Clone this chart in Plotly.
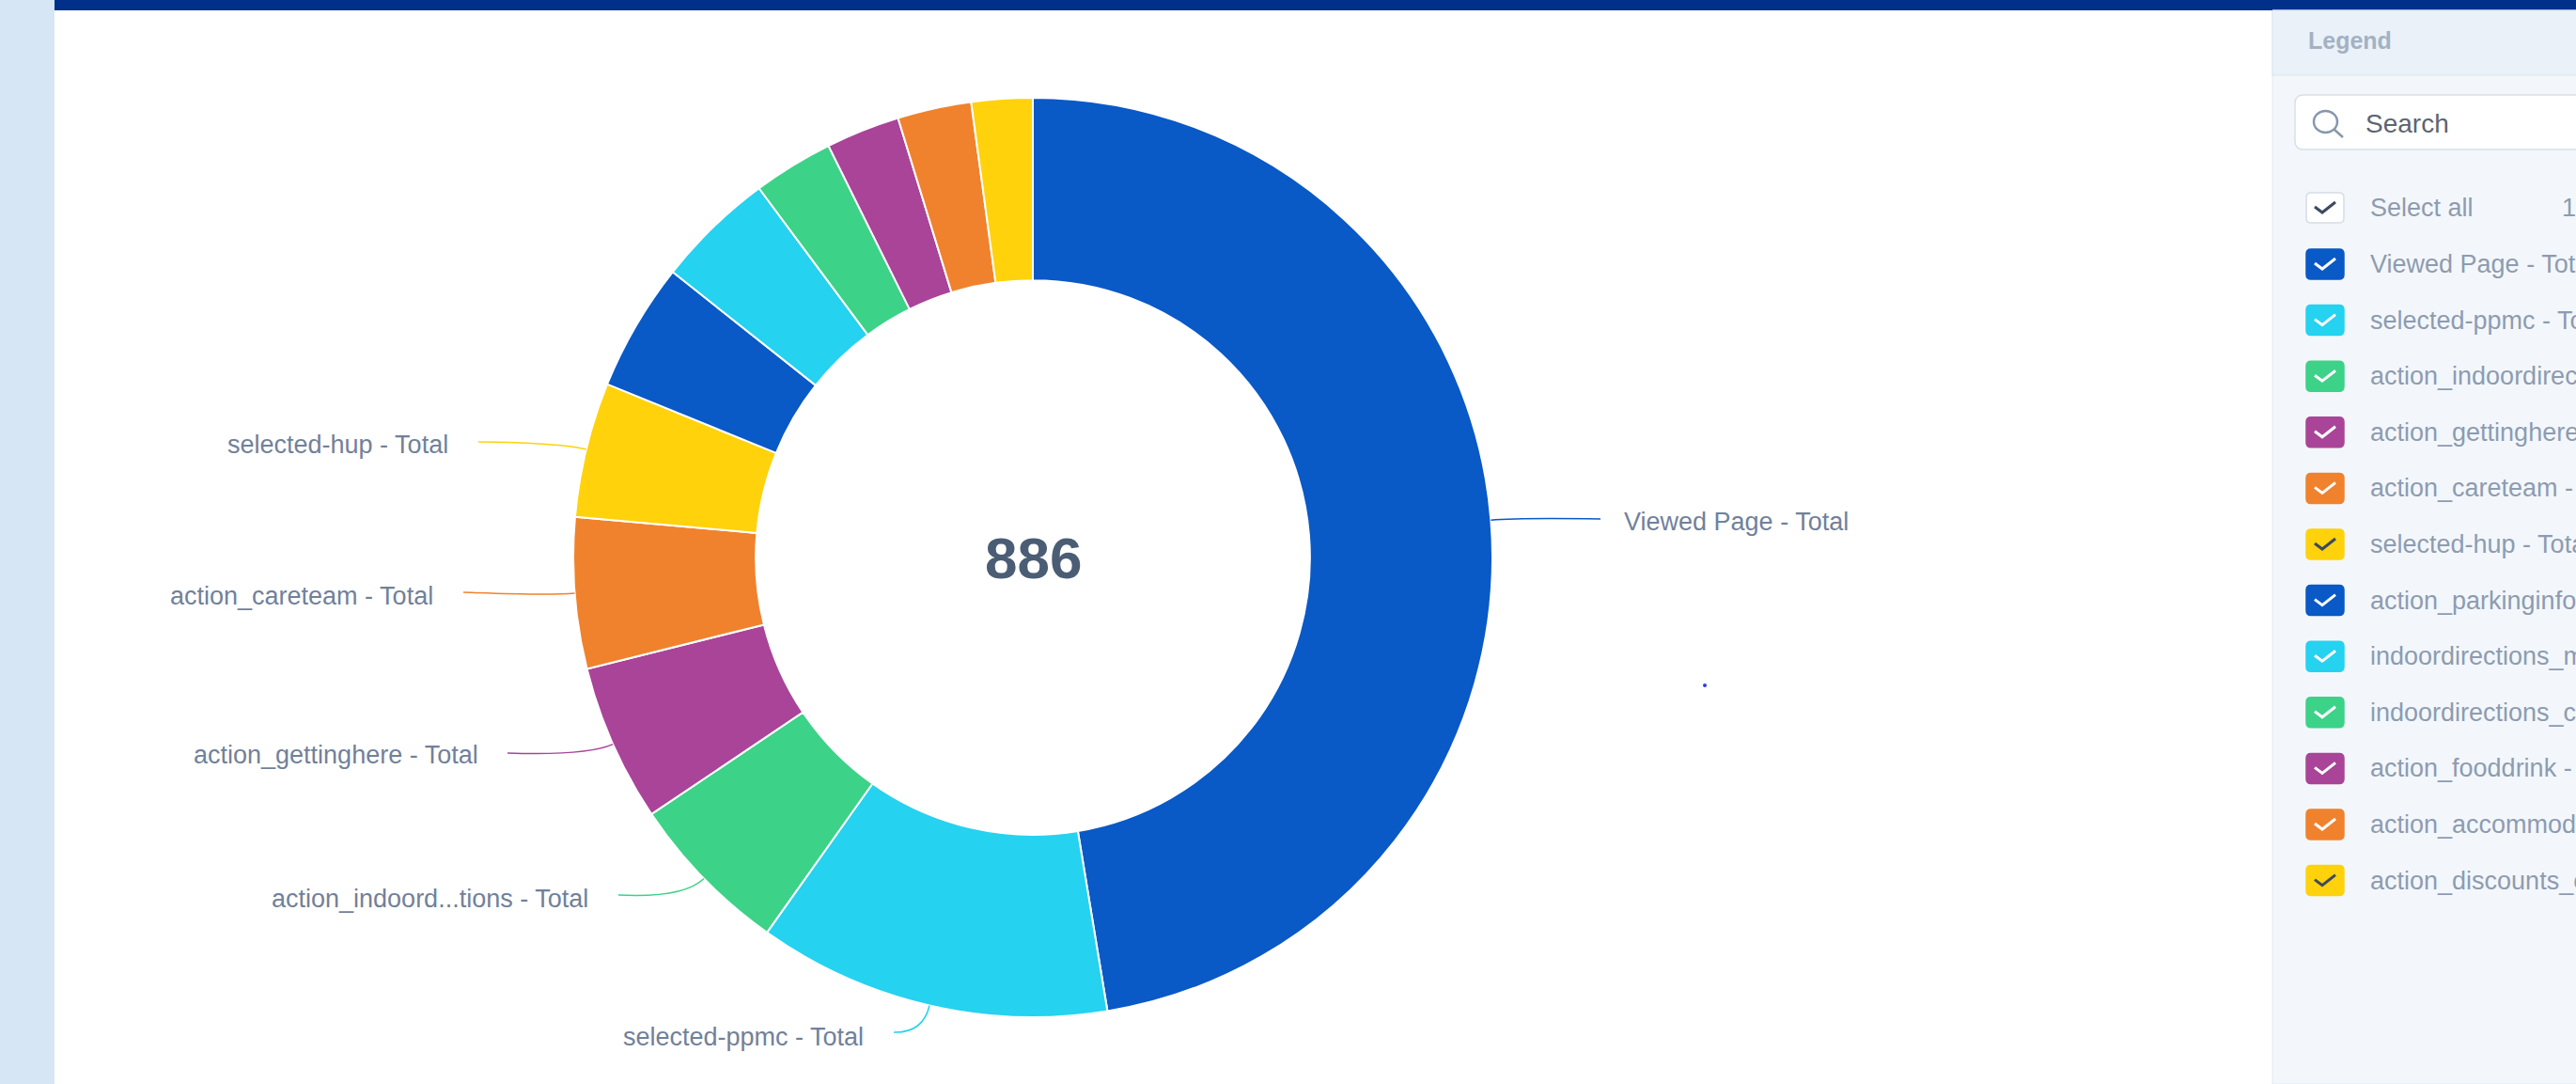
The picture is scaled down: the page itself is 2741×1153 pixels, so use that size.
import math
import plotly.graph_objects as go

# ---------------- data ----------------
labels = [
    "Viewed Page - Total",
    "selected-ppmc - Total",
    "action_indoordirections - Total",
    "action_gettinghere - Total",
    "action_careteam - Total",
    "selected-hup - Total",
    "action_parkinginfo - Total",
    "indoordirections_map - Total",
    "indoordirections_cancel - Total",
    "action_fooddrink - Total",
    "action_accommodations - Total",
    "action_discounts_offers - Total",
]
values = [420, 110, 51, 49, 47, 42, 40, 37, 25, 23, 23, 19]
colors = [
    "#0959C6", "#25D2EF", "#3CD287", "#A94498", "#F0822D", "#FFD20C",
    "#0959C6", "#25D2EF", "#3CD287", "#A94498", "#F0822D", "#FFD20C",
]
# text shown next to the donut for the labelled slices
slice_text = {
    "Viewed Page - Total": "Viewed Page - Total",
    "selected-ppmc - Total": "selected-ppmc - Total",
    "action_indoordirections - Total": "action_indoord...tions - Total",
    "action_gettinghere - Total": "action_gettinghere - Total",
    "action_careteam - Total": "action_careteam - Total",
    "selected-hup - Total": "selected-hup - Total",
}
legend_title = "Legend"
search_text = "Search"
select_all_text = "Select all"
total = sum(values)

# ---------------- layout helpers (pixels -> paper) ----------------
W, H = 2741, 1153
def X(px):
    return px / W
def Y(py):
    return 1 - py / H

FONT = "Liberation Sans, Arial, sans-serif"
CX, CY, R = 1099, 593, 489

# label placement: text x, text y, anchor, leader end x, leader end y
label_pos = {
    "Viewed Page - Total": (1726, 555, "left", 1703, 552),
    "selected-ppmc - Total": (921, 1103, "right", 951, 1098),
    "action_indoordirections - Total": (628, 956, "right", 658, 952),
    "action_gettinghere - Total": (511, 803, "right", 540, 801),
    "action_careteam - Total": (463, 634, "right", 493, 630),
    "selected-hup - Total": (479, 473, "right", 509, 470),
}

fig = go.Figure()
fig.add_trace(go.Pie(
    labels=labels,
    values=values,
    hole=0.603,
    sort=False,
    direction="clockwise",
    rotation=0,
    marker=dict(colors=colors, line=dict(color="white", width=2)),
    textinfo="none",
    hoverinfo="label+value",
    showlegend=False,
    domain=dict(x=[X(CX - R), X(CX + R)], y=[Y(CY + R), Y(CY - R)]),
))

shapes = []
annotations = []

def rrect_path(x0, y0, x1, y1, r):
    pts = [
        f"M {X(x0 + r)} {Y(y0)}",
        f"L {X(x1 - r)} {Y(y0)}",
        f"Q {X(x1)} {Y(y0)} {X(x1)} {Y(y0 + r)}",
        f"L {X(x1)} {Y(y1 - r)}",
        f"Q {X(x1)} {Y(y1)} {X(x1 - r)} {Y(y1)}",
        f"L {X(x0 + r)} {Y(y1)}",
        f"Q {X(x0)} {Y(y1)} {X(x0)} {Y(y1 - r)}",
        f"L {X(x0)} {Y(y0 + r)}",
        f"Q {X(x0)} {Y(y0)} {X(x0 + r)} {Y(y0)}",
        "Z",
    ]
    return " ".join(pts)

def rect(x0, y0, x1, y1, fill, layer="below", line=None):
    shapes.append(dict(type="rect", xref="paper", yref="paper",
                       x0=X(x0), x1=X(x1), y0=Y(y1), y1=Y(y0),
                       fillcolor=fill, line=line or dict(width=0), layer=layer))

# page background pieces
rect(0, 0, 58, H, "#d6e6f5")
rect(58, 0, W, 11, "#00308A")
# legend panel
rect(2418, 11, W + 5, H, "#F3F7FB", line=dict(color="#E1E8F0", width=1))
rect(2418, 11, W + 5, 80, "#EAF1F9", line=dict(color="#DCE5EF", width=1))
# stray dot
shapes.append(dict(type="circle", xref="paper", yref="paper",
                   x0=X(1812), x1=X(1816), y0=Y(731), y1=Y(727),
                   fillcolor="#2a3cf0", line=dict(width=0)))

# leader lines + slice labels
cum = 0
for lab, val, col in zip(labels, values, colors):
    mid = (cum + val / 2) / total * 2 * math.pi
    cum += val
    if lab not in label_pos:
        continue
    tx, ty, anc, ex, ey = label_pos[lab]
    sx, sy = CX + R * math.sin(mid), CY - R * math.cos(mid)
    cx, cy = CX + (R + 30) * math.sin(mid), CY - (R + 30) * math.cos(mid)
    shapes.append(dict(type="path", xref="paper", yref="paper",
                       path=f"M {X(sx)} {Y(sy)} Q {X(cx)} {Y(cy)} {X(ex)} {Y(ey)}",
                       line=dict(color=col, width=1.5), layer="above"))
    annotations.append(dict(x=X(tx), y=Y(ty), xref="paper", yref="paper",
                            text=slice_text[lab], showarrow=False,
                            xanchor=anc, yanchor="middle",
                            font=dict(family=FONT, size=27, color="#71819A")))

# centre total
annotations.append(dict(x=X(CX), y=Y(CY), xref="paper", yref="paper",
                        text=f"<b>{total}</b>", showarrow=False,
                        xanchor="center", yanchor="middle",
                        font=dict(family=FONT, size=62, color="#4A5D74")))

# legend header
annotations.append(dict(x=X(2454), y=Y(43), xref="paper", yref="paper",
                        text=f"<b>{legend_title}</b>", showarrow=False,
                        xanchor="left", yanchor="middle",
                        font=dict(family=FONT, size=25, color="#A3B1C3")))
# search box
shapes.append(dict(type="path", xref="paper", yref="paper",
                   path=rrect_path(2442, 101, W + 20, 159, 9),
                   fillcolor="white", line=dict(color="#D8DFE8", width=1.5)))
shapes.append(dict(type="circle", xref="paper", yref="paper",
                   x0=X(2462), x1=X(2487), y0=Y(141), y1=Y(118),
                   line=dict(color="#8797AB", width=2.5)))
shapes.append(dict(type="line", xref="paper", yref="paper",
                   x0=X(2484), y0=Y(138), x1=X(2493), y1=Y(146),
                   line=dict(color="#8797AB", width=2.5)))
annotations.append(dict(x=X(2515), y=Y(131), xref="paper", yref="paper",
                        text=search_text, showarrow=False,
                        xanchor="left", yanchor="middle",
                        font=dict(family=FONT, size=28, color="#5C6570")))

def checkbox(yc, fill, border, tick):
    shapes.append(dict(type="path", xref="paper", yref="paper",
                       path=rrect_path(2454, yc - 16, 2494, yc + 16, 5),
                       fillcolor=fill, line=dict(color=border, width=1.5)))
    shapes.append(dict(type="path", xref="paper", yref="paper",
                       path=f"M {X(2463)} {Y(yc - 1)} L {X(2471)} {Y(yc + 5)} L {X(2485)} {Y(yc - 6)}",
                       line=dict(color=tick, width=3)))

# select all row
checkbox(221, "white", "#D5DDE7", "#3D4A5C")
annotations.append(dict(x=X(2520), y=Y(221), xref="paper", yref="paper",
                        text=select_all_text, showarrow=False,
                        xanchor="left", yanchor="middle",
                        font=dict(family=FONT, size=27, color="#8E9BB0")))
annotations.append(dict(x=X(2724), y=Y(221), xref="paper", yref="paper",
                        text=str(len(labels)), showarrow=False,
                        xanchor="left", yanchor="middle",
                        font=dict(family=FONT, size=27, color="#8E9BB0")))

# legend rows
for i, (lab, col) in enumerate(zip(labels, colors)):
    yc = 281 + 59.6 * i
    tick = "#3D4A5C" if col == "#FFD20C" else "white"
    checkbox(yc, col, col, tick)
    annotations.append(dict(x=X(2520), y=Y(yc), xref="paper", yref="paper",
                            text=lab, showarrow=False,
                            xanchor="left", yanchor="middle",
                            font=dict(family=FONT, size=27, color="#8E9BB0")))

fig.update_layout(
    width=W, height=H,
    margin=dict(l=0, r=0, t=0, b=0),
    paper_bgcolor="white",
    plot_bgcolor="white",
    showlegend=False,
    shapes=shapes,
    annotations=annotations,
    font=dict(family=FONT),
)

fig.write_html("out.html", post_script="document.body.style.margin='0';document.body.style.overflow='hidden';")
